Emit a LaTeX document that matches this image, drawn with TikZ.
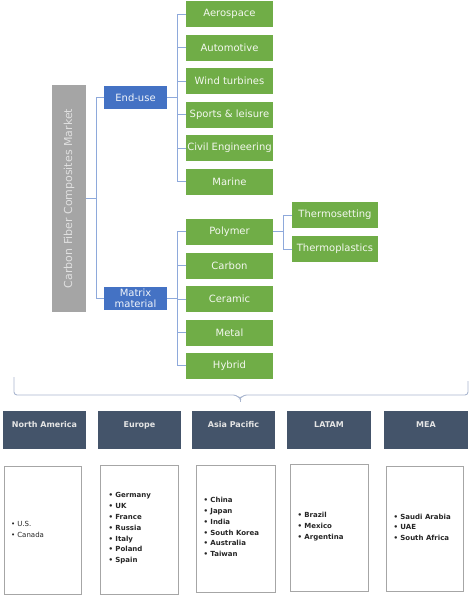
\documentclass[tikz,border=0pt]{standalone}
\usepackage{fontspec}
\usepackage{graphicx}
\setmainfont{DejaVu Sans}
\definecolor{cgreen}{HTML}{70AD47}
\definecolor{cblue}{HTML}{4472C4}
\definecolor{cslate}{HTML}{44546A}
\definecolor{cgray}{HTML}{A5A5A5}
\definecolor{cline}{HTML}{8EA9DB}
\definecolor{cbrace}{HTML}{A9B6CF}
\definecolor{cborder}{HTML}{A6A6A6}
\begin{document}
\begin{tikzpicture}[x=1pt,y=-1pt,
  every node/.style={inner sep=0pt, outer sep=0pt},
  gbox/.style={rectangle, fill=cgreen, text=white!92!cgreen, minimum width=87pt, minimum height=26pt, font=\fontsize{10}{12}\selectfont},
  bbox/.style={rectangle, fill=cblue, text=white!92!cblue, minimum width=63pt, minimum height=23pt, align=center, font=\fontsize{10}{11.5}\selectfont},
  hdr/.style={rectangle, fill=cslate, text=white!90!black, minimum width=83.5pt, minimum height=38pt, font=\fontsize{8}{9}\selectfont\bfseries, text height=7pt, text depth=12pt},
  lbox/.style={rectangle, draw=cborder, line width=0.9pt, fill=white},
  ltxt/.style={anchor=west, align=left, text=black!85, font=\fontsize{7}{10.8}\selectfont\bfseries},
  conn/.style={draw=cline, line width=0.9pt}
]
\useasboundingbox (0,0) rectangle (474,603);

% title
\node[rectangle, fill=cgray, minimum width=34pt, minimum height=227pt, text=white!88!black,
      font=\fontsize{11}{13}\selectfont] (title) at (69,198.5) {\rotatebox{90}{Carbon Fiber Composites Market}};

% level 1
\node[bbox] (endu) at (135.5,97.5) {End-use};
\node[bbox] (matr) at (135.5,298.5) {Matrix\\material};

% end-use children
\node[gbox] (aero) at (229.5,14) {Aerospace};
\node[gbox] (auto) at (229.5,47.5) {Automotive};
\node[gbox] (wind) at (229.5,81) {Wind turbines};
\node[gbox] (sport) at (229.5,114.5) {Sports \& leisure};
\node[gbox] (civil) at (229.5,148) {Civil Engineering};
\node[gbox] (marine) at (229.5,181.5) {Marine};

% matrix children
\node[gbox] (poly) at (229.5,231.5) {Polymer};
\node[gbox] (carb) at (229.5,265.5) {Carbon};
\node[gbox] (cera) at (229.5,299) {Ceramic};
\node[gbox] (metal) at (229.5,332.5) {Metal};
\node[gbox] (hybr) at (229.5,365.5) {Hybrid};

% polymer children
\node[gbox, minimum width=86pt] (tset) at (335,215) {Thermosetting};
\node[gbox, minimum width=86pt] (tpla) at (335,249) {Thermoplastics};

% connectors
\coordinate (b1) at (96,198.5);
\coordinate (b2) at (177,97.5);
\coordinate (b3) at (177,298.5);
\coordinate (b4) at (283,231.5);
\draw[conn] (title.east) -- (b1);
\draw[conn] (endu.west) -| (b1);
\draw[conn] (matr.west) -| (b1);
\draw[conn] (endu.east) -- (b2);
\foreach \n in {aero,auto,wind,sport,civil,marine} \draw[conn] (\n.west) -| (b2);
\draw[conn] (matr.east) -- (b3);
\foreach \n in {poly,carb,cera,metal,hybr} \draw[conn] (\n.west) -| (b3);
\draw[conn] (poly.east) -- (b4);
\draw[conn] (tset.west) -| (b4);
\draw[conn] (tpla.west) -| (b4);

% brace
\draw[cbrace, line width=0.9pt, rounded corners=3pt] (14,377) -- (14,395) -- (236.5,395) -- (240,399) -- (243.5,395) -- (468,395) -- (468,381);
\draw[cbrace, line width=0.9pt] (240,398) -- (240,402);

% region headers
\node[hdr] (na) at (44.5,429.5) {North America};
\node[hdr] (eu) at (139.5,429.5) {Europe};
\node[hdr] (ap) at (233.5,429.5) {Asia Pacific};
\node[hdr] (la) at (329,430) {LATAM};
\node[hdr] (me) at (426,430) {MEA};

% list boxes
\node[lbox, minimum width=77.5pt, minimum height=127.5pt] (naB) at (42.75,530.25) {};
\node[lbox, minimum width=78pt, minimum height=128.5pt] (euB) at (139.5,529.75) {};
\node[lbox, minimum width=78.5pt, minimum height=127pt] (apB) at (235.75,528.5) {};
\node[lbox, minimum width=78pt, minimum height=127pt] (laB) at (329.5,528) {};
\node[lbox, minimum width=77.5pt, minimum height=124.5pt] (meB) at (424.75,528.75) {};

\node[ltxt, font=\fontsize{7}{10.8}\selectfont] (naL) at (11,529.5) {• U.S.\\• Canada};
\node[ltxt] (euL) at (108.5,528.5) {• Germany\\• UK\\• France\\• Russia\\• Italy\\• Poland\\• Spain};
\node[ltxt] (apL) at (203.5,527) {• China\\• Japan\\• India\\• South Korea\\• Australia\\• Taiwan};
\node[ltxt] (laL) at (297.5,526.7) {• Brazil\\• Mexico\\• Argentina};
\node[ltxt] (meL) at (393.5,527.3) {• Saudi Arabia\\• UAE\\• South Africa};
\end{tikzpicture}
\end{document}
